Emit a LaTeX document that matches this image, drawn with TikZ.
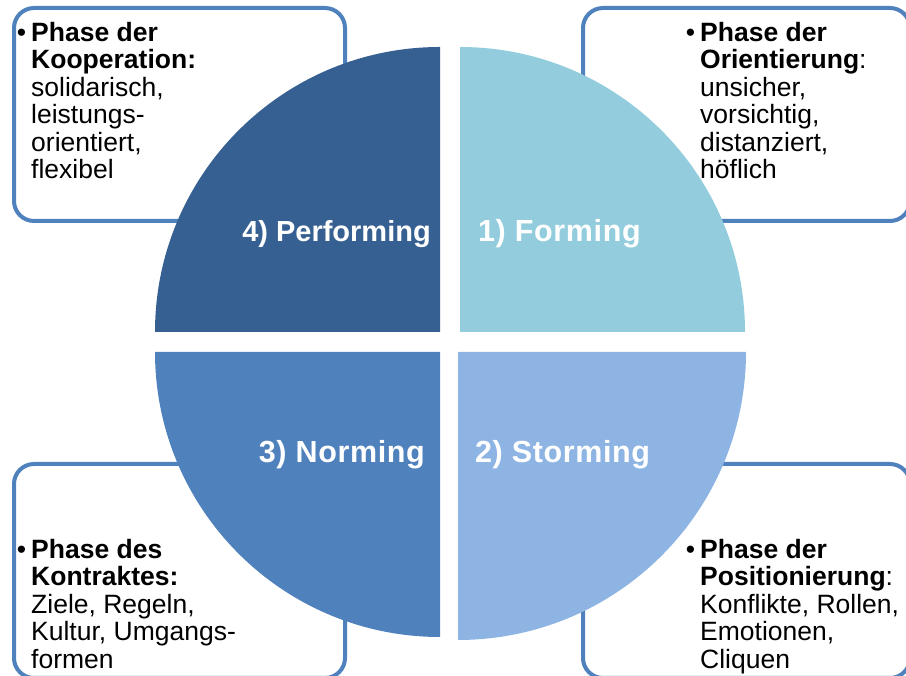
\documentclass[tikz,border=0pt]{standalone}
\usepackage{fontspec}
\setmainfont{Liberation Sans}
\usetikzlibrary{calc}

\definecolor{boxblue}{HTML}{4F81BD}
\definecolor{performblue}{HTML}{376092}
\definecolor{formblue}{HTML}{93CDDD}
\definecolor{normblue}{HTML}{4F81BD}
\definecolor{stormblue}{HTML}{8EB4E3}

\begin{document}
\begin{tikzpicture}[x=1pt,y=1pt,
    phasebox/.style={draw=boxblue, line width=4pt, rounded corners=20pt, fill=white},
    phasetext/.style={anchor=north west, inner sep=0pt, align=left, font=\fontsize{26.5pt}{27.5pt}\selectfont},
    quadlabel/.style={inner sep=0pt, text=white, font=\bfseries\fontsize{29pt}{30pt}\selectfont},
    widelabel/.style={quadlabel, font=\bfseries\fontsize{30.5pt}{31pt}\selectfont\addfontfeature{LetterSpace=2}}]
  \useasboundingbox (0,0) rectangle (906,676);
  \clip (0,0) rectangle (906,676);

  % Kaesten
  \draw[phasebox] (14,455) rectangle (345,668);
  \draw[phasebox] (583,455) rectangle (910,668);
  \draw[phasebox] (14,-2) rectangle (345,212);
  \draw[phasebox] (583,-2) rectangle (910,212);

  \node[phasetext] (kooperation) at (31,654) {\llap{\textbullet\hspace{5pt}}\textbf{Phase der}\\\textbf{Kooperation:}\\solidarisch,\\leistungs-\\orientiert,\\flexibel};
  \node[phasetext] (orientierung) at (700,654) {\llap{\textbullet\hspace{5pt}}\textbf{Phase der}\\\textbf{Orientierung}:\\unsicher,\\vorsichtig,\\distanziert,\\höflich};
  \node[phasetext] (kontrakt) at (31,137) {\llap{\textbullet\hspace{5pt}}\textbf{Phase des}\\\textbf{Kontraktes:}\\Ziele, Regeln,\\Kultur, Umgangs-\\formen};
  \node[phasetext] (positionierung) at (700,137) {\llap{\textbullet\hspace{5pt}}\textbf{Phase der}\\\textbf{Positionierung}:\\Konflikte, Rollen,\\Emotionen,\\Cliquen};

  % Viertelkreise
  \coordinate (M4) at (440,344);
  \coordinate (M1) at (460,344);
  \coordinate (M3) at (440,324);
  \coordinate (M2) at (458,324);
  \fill[performblue] (M4) -- ++(-285,0) arc[start angle=180, end angle=90, radius=285] -- cycle;
  \fill[formblue] (M1) -- ++(0,285) arc[start angle=90, end angle=0, radius=285] -- cycle;
  \fill[normblue] (M3) -- ++(-285,0) arc[start angle=180, end angle=270, radius=285] -- cycle;
  \fill[stormblue] (M2) -- ++(288,0) arc[start angle=0, end angle=-90, radius=288] -- cycle;

  \node[quadlabel, anchor=base east] (performing) at (431,434) {4) Performing};
  \node[widelabel, anchor=base west] (forming) at (478,434) {1) Forming};
  \node[widelabel, anchor=base east] (norming) at (425,213) {3) Norming};
  \node[widelabel, anchor=base west] (storming) at (475,213) {2) Storming};
\end{tikzpicture}
\end{document}
